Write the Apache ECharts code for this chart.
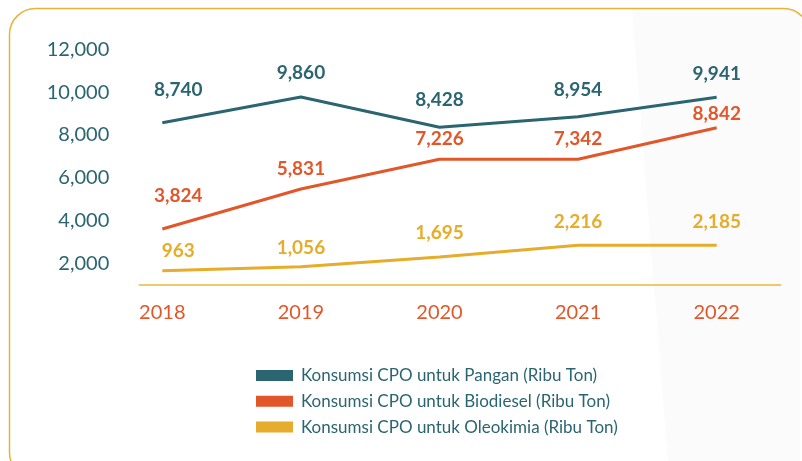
<!DOCTYPE html>
<html><head><meta charset="utf-8">
<script src="https://cdn.jsdelivr.net/npm/echarts@6/dist/echarts.min.js"></script>
<style>html,body{margin:0;padding:0;background:#fff;}#c{width:802px;height:461px;}</style>
</head><body><div id="c"></div>
<script>
// ---- data ----
const years = [2018, 2019, 2020, 2021, 2022];
const seriesNames = [
  'Konsumsi CPO untuk Pangan (Ribu Ton)',
  'Konsumsi CPO untuk Biodiesel (Ribu Ton)',
  'Konsumsi CPO untuk Oleokimia (Ribu Ton)'
];
// line heights as drawn in the picture
const panganLine = [8574, 9773, 8359, 8853, 9759];
const biodieselLine = [3613, 5480, 6866, 6866, 8340];
const oleokimiaLine = [1667, 1854, 2307, 2853, 2853];
// printed values
const panganLabels = [8740, 9860, 8428, 8954, 9941];
const biodieselLabels = [3824, 5831, 7226, 7342, 8842];
const oleokimiaLabels = [963, 1056, 1695, 2216, 2185];
const yTicks = [2000, 4000, 6000, 8000, 10000, 12000];

// ---- styles ----
const colors = ['#2a6570', '#e2572a', '#e6ac2b'];
const labelOffsets = [
  [[16,-23],[0,-14],[0,-17],[0,-17],[0,-13]],
  [[16,-23],[0,-10],[0,-10],[0,-10],[0,-4]],
  [[16,-10],[0,-9],[0,-14],[0,-13],[0,-13]]
];
const fontFam = 'Lato, "Open Sans", sans-serif';
const fmt = v => v.toLocaleString('en-US');

function buildSeries(idx, line, labels) {
  return {
    name: seriesNames[idx],
    type: 'line',
    showSymbol: true,
    symbol: 'circle',
    symbolSize: 0,
    color: colors[idx],
    itemStyle: { color: colors[idx] },
    lineStyle: { width: 3, color: colors[idx] },
    z: 3,
    data: years.map((y, i) => ({
      value: [y, line[i]],
      label: {
        show: true,
        position: 'top',
        distance: 0,
        offset: labelOffsets[idx][i],
        formatter: () => fmt(labels[i]),
        color: colors[idx],
        fontFamily: fontFam,
        fontWeight: 'bold',
        fontSize: 19,
        lineHeight: 20
      }
    }))
  };
}

const chart = echarts.init(document.getElementById('c'), null, { renderer: 'canvas' });
chart.setOption({
  backgroundColor: '#ffffff',
  animation: false,
  graphic: [
    { type: 'polygon', z: -10, silent: true,
      shape: { points: [[632, 9], [800, 9], [800, 461], [668, 461]] },
      style: { fill: '#fbfbfb' } },
    { type: 'rect', z: -5, silent: true,
      shape: { x: 9.5, y: 8.5, width: 800, height: 470, r: 26 },
      style: { fill: 'none', stroke: '#e8b33a', lineWidth: 1.5 } }
  ],
  grid: { left: 139.3, right: 21.3, top: 49.3, bottom: 176, containLabel: false },
  xAxis: {
    type: 'value',
    min: 2017.834,
    max: 2022.462,
    splitLine: { show: false },
    axisTick: { show: false },
    axisLine: { show: true, onZero: false, lineStyle: { color: '#e9b93e', width: 1.5 } },
    axisLabel: {
      customValues: years,
      formatter: v => String(v),
      color: '#e2572a',
      fontFamily: fontFam,
      fontSize: 20,
      lineHeight: 20,
      margin: 18
    }
  },
  yAxis: {
    type: 'value',
    min: 1000,
    max: 12000,
    splitLine: { show: false },
    axisLine: { show: false },
    axisTick: { show: false },
    axisLabel: {
      customValues: yTicks,
      formatter: v => fmt(v),
      color: '#2a6570',
      fontFamily: fontFam,
      fontSize: 20,
      margin: 30
    }
  },
  legend: {
    orient: 'vertical',
    left: 251,
    top: 360.5,
    itemWidth: 37,
    itemHeight: 11,
    itemGap: 5.8,
    icon: 'rect',
    data: seriesNames,
    textStyle: {
      color: '#2a6570',
      fontFamily: fontFam,
      fontSize: 17,
      lineHeight: 20,
      padding: [0, 0, 0, 3]
    }
  },
  series: [
    buildSeries(0, panganLine, panganLabels),
    buildSeries(1, biodieselLine, biodieselLabels),
    buildSeries(2, oleokimiaLine, oleokimiaLabels)
  ]
});
</script>
</body></html>
